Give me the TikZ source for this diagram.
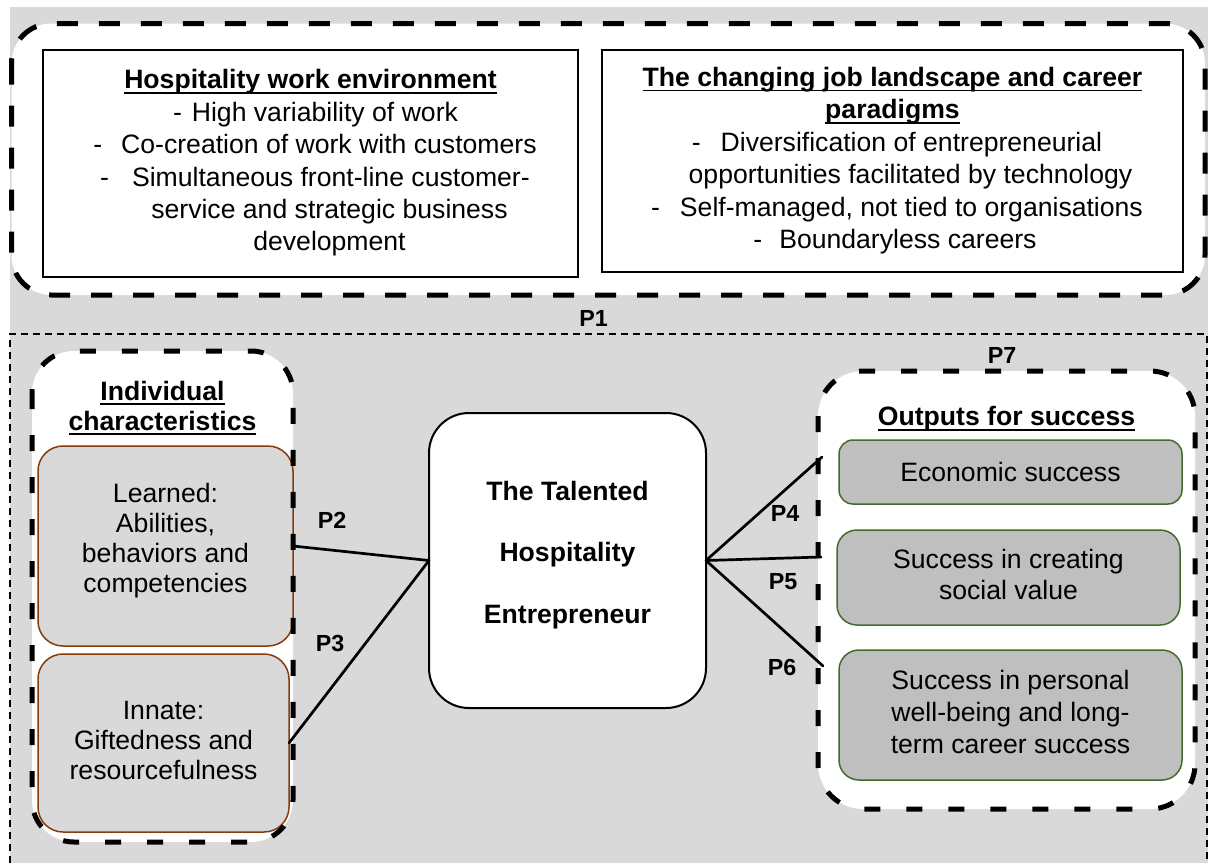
\documentclass[tikz,border=0pt]{standalone}
\usepackage{fontspec}
\setmainfont{Liberation Sans}
\definecolor{bggray}{HTML}{D9D9D9}
\definecolor{brownb}{HTML}{843C0C}
\definecolor{greenb}{HTML}{466A2C}
\definecolor{outfill}{HTML}{BFBFBF}
\newcommand\undl[1]{\setbox0\hbox{#1}\rlap{\rule[-5pt]{\wd0}{1.8pt}}\box0}
\newcommand\ctab[1]{\begin{tabular}{@{}c@{}}#1\end{tabular}}
\begin{document}
\begin{tikzpicture}[x=1pt,y=-1pt,
  every node/.style={inner sep=0pt, outer sep=0pt},
  bigdash/.style={line width=5pt, dash pattern=on 21pt off 21pt},
  meddash/.style={line width=5pt, dash pattern=on 16pt off 26pt},
  thindash/.style={line width=1.6pt, dash pattern=on 7pt off 5pt},
  topbox/.style={draw=black, line width=2pt, fill=white, rectangle, font=\fontsize{26.6}{32.4}\selectfont},
  charbox/.style={draw=brownb, line width=1.5pt, fill=bggray, rectangle, rounded corners=25pt, font=\fontsize{26.6}{30}\selectfont},
  outbox/.style={draw=greenb, line width=1.5pt, fill=outfill, rectangle, font=\fontsize{26.6}{31}\selectfont},
  talbox/.style={draw=black, line width=2pt, fill=white, rectangle, rounded corners=40pt, font=\bfseries\fontsize{26.6}{61.5}\selectfont},
  plabel/.style={font=\bfseries\fontsize{23.3}{28}\selectfont},
  heading/.style={font=\bfseries\fontsize{26.6}{30}\selectfont},
  conn/.style={line width=2.7pt, line cap=round},
]
\useasboundingbox (0,0) rectangle (1208,863);
\fill[bggray] (10,7) rectangle (1208,863);

% top container
\fill[white, rounded corners=40pt] (11.5,23.5) rectangle (1205,295);
\draw[bigdash, rounded corners=40pt] (11.5,23.5) rectangle (1205,295);

\node[topbox, minimum width=535, minimum height=227] (hwe) at (310.5,163.5) {\ctab{%
\bfseries\undl{Hospitality work environment}\\
\hspace*{10pt}-\hspace{10pt}High variability of work\\
\hspace*{9pt}-\hspace{19pt}Co-creation of work with customers\\
\hspace*{9pt}-\hspace{23pt}Simultaneous front-line customer-\\
\hspace*{38pt}service and strategic business\\
\hspace*{38pt}development}};

\node[topbox, minimum width=581, minimum height=222] (cjl) at (892.5,161) {\ctab{%
\bfseries\undl{The changing job landscape and career}\\
\bfseries\undl{paradigms}\\
\hspace*{9pt}-\hspace{20pt}Diversification of entrepreneurial\\
\hspace*{36pt}opportunities facilitated by technology\\
\hspace*{9pt}-\hspace{20pt}Self-managed, not tied to organisations\\
\hspace*{5pt}-\hspace{17pt}Boundaryless careers}};

\node[plabel] (p1) at (593.5,318.5) {P1};

% lower thin dashed region
\draw[thindash] (10,863) -- (10,334) -- (1207,334) -- (1207,863);

% individual characteristics container
\fill[white, rounded corners=42pt] (32,351) rectangle (293,842);
\node[heading] (indivt) at (162.5,409) {\ctab{\undl{Individual}\\\undl{characteristics}}};
\node[charbox, minimum width=255, minimum height=200] (learned) at (165.5,546)
  {\ctab{Learned:\\Abilities,\\behaviors and\\competencies\\[-20pt]\mbox{}}};
\node[charbox, minimum width=251, minimum height=178] (innate) at (163.5,743)
  {\ctab{Innate:\\Giftedness and\\resourcefulness}};
\draw[meddash, rounded corners=42pt] (32,351) rectangle (293,842);

% central node
\node[talbox, minimum width=277, minimum height=295] (tal) at (567.5,560.5)
  {\ctab{The Talented\\Hospitality\\Entrepreneur\\[-39.5pt]\mbox{}}};

% outputs container
\fill[white, rounded corners=45pt] (818,371) rectangle (1195,809);
\draw[meddash, rounded corners=45pt] (818,371) rectangle (1195,809);
\node[heading] (outt) at (1006.5,419) {\undl{Outputs for success}};
\node[outbox, rounded corners=14pt, minimum width=343, minimum height=64] (econ) at (1010.5,472) {Economic success};
\node[outbox, rounded corners=20pt, minimum width=343, minimum height=95] (social) at (1008.5,577.5) {\ctab{Success in creating\\social value}};
\node[outbox, rounded corners=20pt, minimum width=343, minimum height=130, font=\fontsize{26.6}{32}\selectfont] (personal) at (1010.5,715) {\ctab{Success in personal\\well-being and long-\\term career success}};

% connector ends
\coordinate (p4e) at (822,457);
\coordinate (p5e) at (821,557);
\coordinate (p6e) at (823,666);

\draw[conn] (learned.east) -- (tal.west);
\draw[conn] (innate.east) -- (tal.west);
\draw[conn] (tal.east) -- (p4e);
\draw[conn] (tal.east) -- (p5e);
\draw[conn] (tal.east) -- (p6e);

\node[plabel] (p2) at (332,520) {P2};
\node[plabel] (p3) at (330,643) {P3};
\node[plabel] (p4) at (785,513) {P4};
\node[plabel] (p5) at (783,582) {P5};
\node[plabel] (p6) at (782,667) {P6};
\node[plabel] (p7) at (1002,355) {P7};
\end{tikzpicture}
\end{document}
